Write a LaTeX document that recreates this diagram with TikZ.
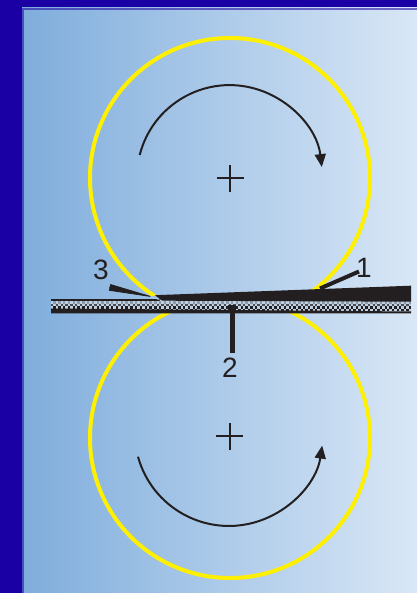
\documentclass[tikz,border=0pt]{standalone}
\usepackage{fontspec}
\setmainfont{Liberation Sans}
\usetikzlibrary{arrows.meta}
\definecolor{bgblue}{HTML}{1A00A4}
\definecolor{gradL}{HTML}{7FADDC}
\definecolor{gradR}{HTML}{D9E7F6}
\definecolor{inkblack}{HTML}{231F20}
\definecolor{rollyellow}{HTML}{FFF000}
\definecolor{stripbg}{HTML}{BFD0E2}
\tikzset{
  x=1pt,y=1pt,
  roll/.style={draw=rollyellow,line width=4pt},
  turn/.style={draw=inkblack,line width=2pt,-{Triangle[length=13pt,width=11pt,fill=inkblack]}},
  hub/.style={draw=inkblack,line width=2pt},
  lbl/.style={text=inkblack,font=\fontsize{28}{28}\selectfont,inner sep=0pt},
  leader/.style={draw=inkblack,line width=.8pt,-{Triangle[length=47.5pt,width=6.5pt,fill=inkblack]}},
}
\begin{document}
\begin{tikzpicture}
\useasboundingbox (0,0) rectangle (417,593);
\fill[bgblue] (0,0) rectangle (417,593);
\shade[left color=gradL,right color=gradR] (22,0) rectangle (417,585);
\draw[bgblue,opacity=.55,line width=2pt] (23,0) -- (23,584) -- (417,584);
% rolls
\begin{scope}
\clip (0,297) rectangle (417,593);
\draw[roll] (230,415) circle[radius=140];
\end{scope}
\begin{scope}
\clip (0,0) rectangle (417,281);
\draw[roll] (230,155) circle[radius=140];
\end{scope}
% rotation arrows
\draw[turn] (139.7,438) arc[start angle=165.7,end angle=6.7,radius=92.8];
\draw[turn] (138,136.3) arc[start angle=195.4,end angle=351.5,radius=94.3];
% hubs
\draw[hub] (216.5,414.5) -- (243.5,414.5) (230,401) -- (230,428);
\draw[hub] (216,156.5) -- (243,156.5) (229.5,143) -- (229.5,170);
% strip: checker band
\fill[stripbg] (51,291.5) rectangle (411,279.5);
\foreach \i in {0,...,149}{
  \pgfmathsetmacro{\xa}{51+\i*2.4}
  \ifodd\i\relax
    \fill[inkblack,opacity=.3] (\xa,291.5) rectangle ++(2.4,-2.5);
    \fill[inkblack] (\xa,286.5) rectangle ++(2.4,-2.5);
  \else
    \fill[inkblack,opacity=.75] (\xa,289) rectangle ++(2.4,-2.5);
    \fill[inkblack] (\xa,284) rectangle ++(2.4,-2.5);
  \fi
}
\fill[inkblack] (51,284.5) -- (411,281.5) -- (411,279.5) -- (51,279.5) -- cycle;
% upper layer
\fill[inkblack] (51,293.5) rectangle (160,291.5);
\fill[inkblack] (155,297.8) -- (411,307.3) -- (411,291.3) -- (162,292.3) -- cycle;
\draw[stripbg,line width=.5pt] (151,296.5) -- (162,292);
% labels
\node[lbl] (n1) at (364,325) {1};
\node[lbl] (n2) at (230,225.5) {2};
\node[lbl] (n3) at (101,323) {3};
% leaders
\coordinate (a1) at (359,321.5);
\coordinate (b1) at (320,304.5);
\coordinate (a2) at (232.3,240);
\coordinate (b2) at (232.3,288);
\coordinate (a3) at (109.3,305.7);
\coordinate (b3) at (156,295.3);
\draw[draw=inkblack,line width=4pt] (a1) -- (b1);
\draw[draw=inkblack,line width=5pt] (a2) -- (b2);
\fill[inkblack] (228,288) rectangle (236,283);
\draw[leader] (a3) -- (b3);
\end{tikzpicture}
\end{document}
